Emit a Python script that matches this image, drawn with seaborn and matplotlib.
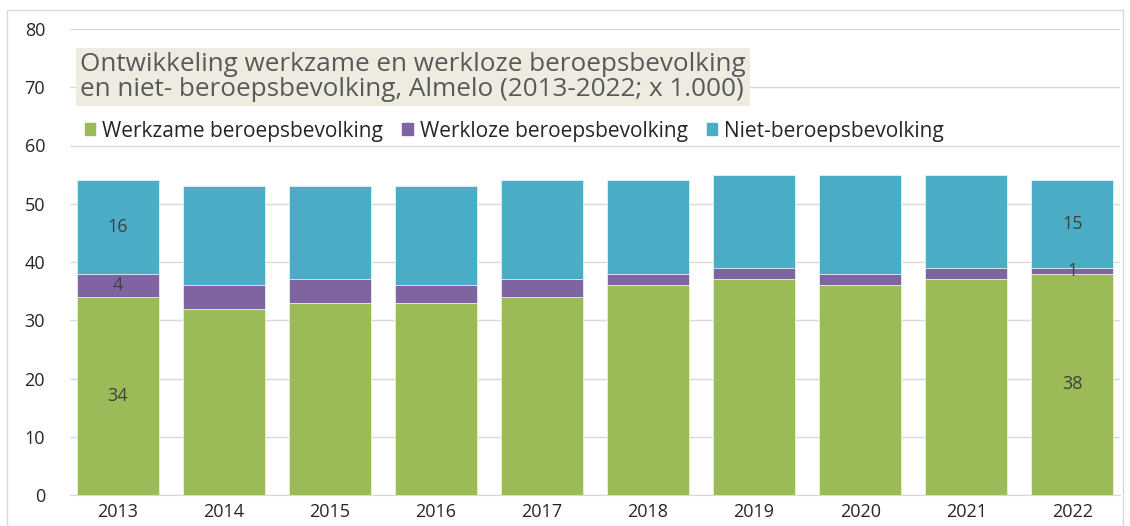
import matplotlib
matplotlib.use("Agg")
import matplotlib.pyplot as plt
import matplotlib.patches as mpatches
import pandas as pd
import seaborn as sns

years = ["2013", "2014", "2015", "2016", "2017", "2018", "2019", "2020", "2021", "2022"]
werkzaam = [34, 32, 33, 33, 34, 36, 37, 36, 37, 38]
werkloos = [4, 4, 4, 3, 3, 2, 2, 2, 2, 1]
niet_beroeps = [16, 17, 16, 17, 17, 16, 16, 17, 16, 15]

series_names = ["Werkzame beroepsbevolking", "Werkloze beroepsbevolking", "Niet-beroepsbevolking"]
colors = ["#9BBB59", "#8064A2", "#4BACC6"]

df = pd.DataFrame({"jaar": years, "werkzaam": werkzaam,
                   "werkloos": werkloos, "niet": niet_beroeps})
df["tot2"] = df["werkzaam"] + df["werkloos"]
df["tot3"] = df["tot2"] + df["niet"]

sns.set_style("white")
plt.rcParams["font.family"] = ["Open Sans", "DejaVu Sans"]

fig = plt.figure(figsize=(11.3, 5.26), dpi=100)
ax = fig.add_axes([70 / 1130, 31 / 526, 1050 / 1130, 466 / 526])

# stacked by overlaying cumulative totals
for col, c in zip(["tot3", "tot2", "werkzaam"], colors[::-1]):
    sns.barplot(data=df, x="jaar", y=col, color=c, width=0.77, ax=ax,
                edgecolor="#e8f0f4", linewidth=0.6, zorder=3, saturation=1)

ax.set_ylim(0, 80)
ax.set_yticks(range(0, 81, 10))
ax.set_xlim(-0.45, 9.45)
ax.yaxis.grid(True, color="#d9d9d9", linewidth=1, zorder=0)
ax.set_axisbelow(True)
for s in ["top", "right", "left"]:
    ax.spines[s].set_visible(False)
ax.spines["bottom"].set_color("#d9d9d9")
ax.set_xlabel("")
ax.set_ylabel("")
ax.tick_params(axis="x", length=0, labelsize=13, colors="#262626", pad=6)
ax.tick_params(axis="y", length=0, labelsize=13, colors="#262626", pad=18)

# data labels for first and last year
for i in [0, len(years) - 1]:
    g, u, n = werkzaam[i], werkloos[i], niet_beroeps[i]
    ax.text(i, g / 2, str(g), ha="center", va="center", fontsize=13, color="#404040", zorder=5)
    ax.text(i, g + u / 2, str(u), ha="center", va="center", fontsize=13, color="#404040", zorder=5)
    ax.text(i, g + u + n / 2, str(n), ha="center", va="center", fontsize=13, color="#404040", zorder=5)

# title box
fig.text(80 / 1130, 1 - 77 / 526,
         "Ontwikkeling werkzame en werkloze beroepsbevolking\nen niet- beroepsbevolking, Almelo (2013-2022; x 1.000)",
         ha="left", va="center", fontsize=18.8, color="#595959", linespacing=1.05,
         bbox=dict(boxstyle="square,pad=0.15", facecolor="#EEECE1", edgecolor="none"))

handles = [mpatches.Patch(color=c, label=l) for c, l in zip(colors, series_names)]
fig.legend(handles=handles, loc="center left", bbox_to_anchor=(66 / 1130, 1 - 131 / 526),
           ncol=3, frameon=False, fontsize=15, handlelength=0.5, handleheight=0.5,
           handletextpad=0.35, columnspacing=0.9, labelcolor="#262626")

# outer border
fig.patches.append(mpatches.Rectangle((7 / 1130, 0), 1116 / 1130, 1 - 10 / 526,
                                      transform=fig.transFigure, fill=False,
                                      edgecolor="#d9d9d9", linewidth=1))

fig.savefig("out.png", dpi=100)
